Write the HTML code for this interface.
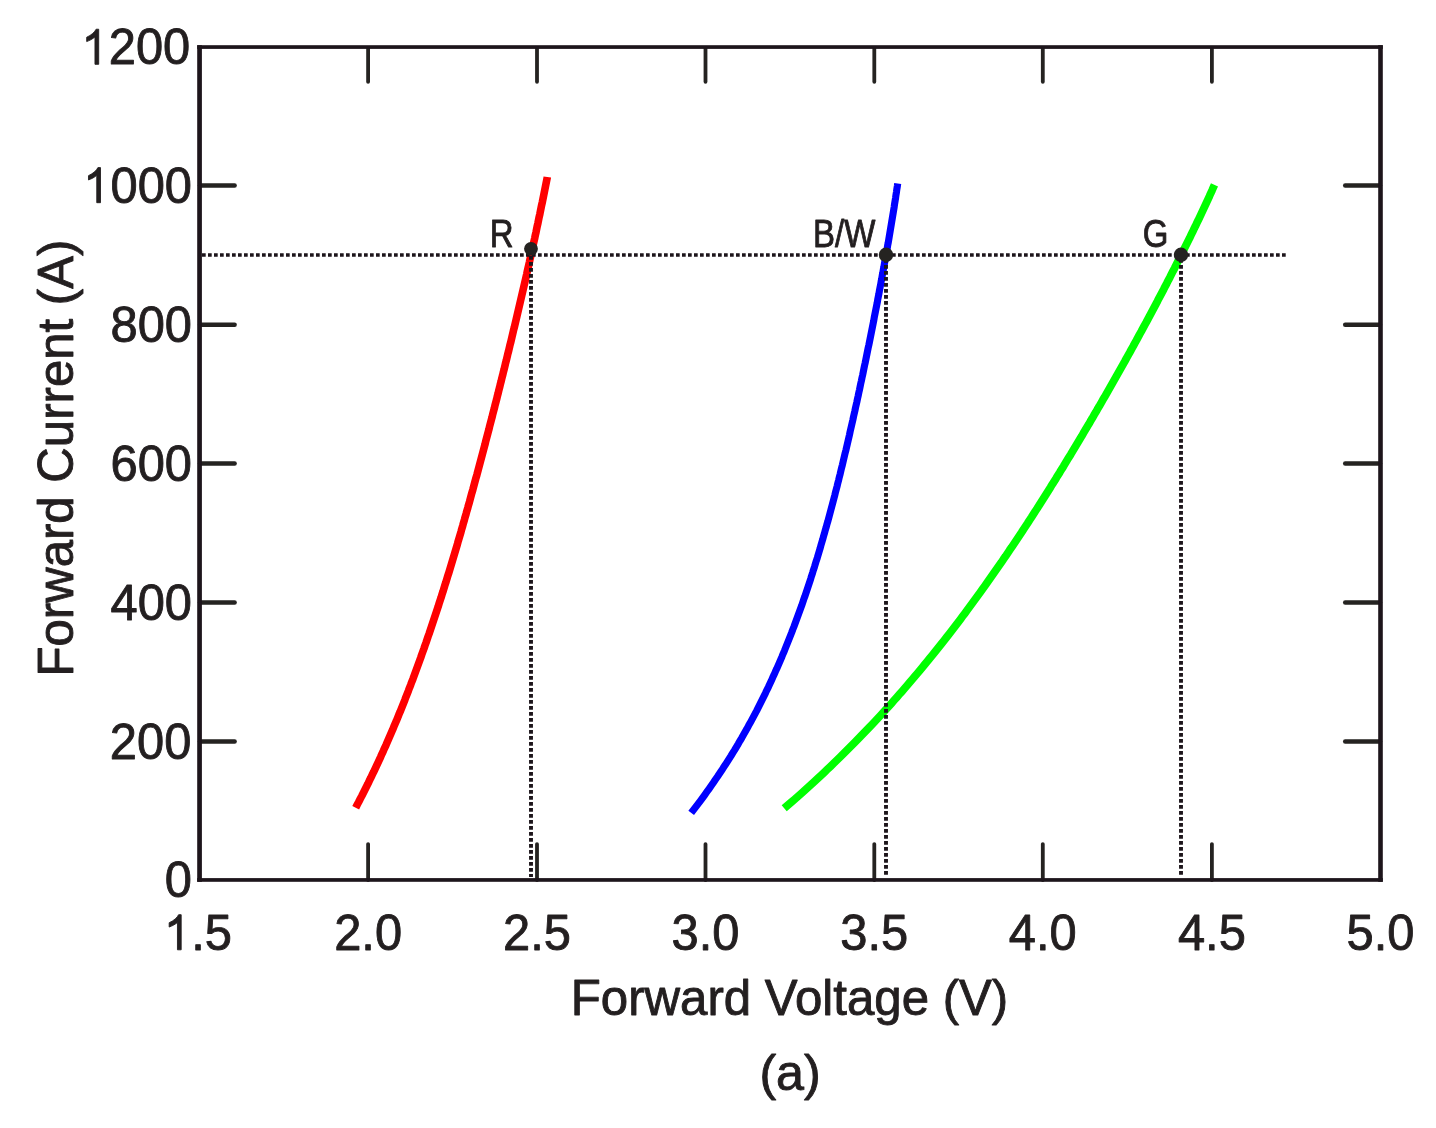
<!DOCTYPE html>
<html><head><meta charset="utf-8"><style>
html,body{margin:0;padding:0;background:#fff;}
svg{display:block;will-change:transform;}
text{font-family:"Liberation Sans",sans-serif;fill:#231f20;stroke:#231f20;stroke-width:0.9px;stroke-linejoin:round;}
.g1{fill:#231f20;stroke:#231f20;stroke-width:0.9px;vector-effect:non-scaling-stroke;stroke-linejoin:round;}
</style></head><body>
<svg width="1436" height="1128" viewBox="0 0 1436 1128">
<rect x="0" y="0" width="1436" height="1128" fill="#fff"/>
<!-- curves -->
<g fill="none" stroke-linejoin="round" stroke-linecap="butt">
<path d="M355.7,807.8 L357.2,804.8 L358.8,801.8 L360.3,798.8 L361.9,795.8 L363.4,792.8 L364.9,789.8 L366.4,786.8 L367.9,783.8 L369.3,780.8 L370.8,777.8 L372.2,774.8 L373.7,771.8 L375.1,768.8 L376.5,765.8 L377.9,762.8 L379.3,759.8 L380.7,756.8 L382.0,753.8 L383.4,750.8 L384.7,747.8 L386.1,744.8 L387.4,741.8 L388.7,738.8 L390.0,735.8 L391.3,732.8 L392.6,729.8 L393.8,726.8 L395.1,723.8 L396.4,720.8 L397.6,717.8 L398.8,714.8 L400.1,711.8 L401.3,708.8 L402.5,705.8 L403.7,702.8 L404.9,699.8 L406.0,696.8 L407.2,693.8 L408.4,690.8 L409.5,687.8 L410.7,684.8 L411.8,681.8 L413.0,678.8 L414.1,675.8 L415.2,672.8 L416.3,669.8 L417.4,666.8 L418.5,663.8 L419.6,660.8 L420.7,657.8 L421.7,654.8 L422.8,651.8 L423.9,648.8 L424.9,645.8 L426.0,642.8 L427.0,639.8 L428.0,636.8 L429.1,633.8 L430.1,630.8 L431.1,627.8 L432.1,624.8 L433.1,621.8 L434.1,618.8 L435.1,615.8 L436.1,612.8 L437.1,609.8 L438.1,606.8 L439.0,603.8 L440.0,600.8 L441.0,597.8 L441.9,594.8 L442.9,591.8 L443.8,588.8 L444.7,585.8 L445.7,582.8 L446.6,579.8 L447.5,576.8 L448.5,573.8 L449.4,570.8 L450.3,567.8 L451.2,564.8 L452.1,561.8 L453.0,558.8 L453.9,555.8 L454.8,552.8 L455.7,549.8 L456.6,546.8 L457.5,543.8 L458.3,540.8 L459.2,537.8 L460.1,534.8 L461.0,531.8 L461.8,528.8 L462.7,525.8 L463.5,522.8 L464.4,519.8 L465.2,516.8 L466.1,513.8 L466.9,510.8 L467.8,507.8 L468.6,504.8 L469.5,501.8 L470.3,498.8 L471.1,495.8 L471.9,492.8 L472.8,489.8 L473.6,486.8 L474.4,483.8 L475.2,480.8 L476.0,477.8 L476.9,474.8 L477.7,471.8 L478.5,468.8 L479.3,465.8 L480.1,462.8 L480.9,459.8 L481.7,456.8 L482.5,453.8 L483.3,450.8 L484.1,447.8 L484.9,444.8 L485.6,441.8 L486.4,438.8 L487.2,435.8 L488.0,432.8 L488.8,429.8 L489.5,426.8 L490.3,423.8 L491.1,420.8 L491.9,417.8 L492.6,414.8 L493.4,411.8 L494.2,408.8 L494.9,405.8 L495.7,402.8 L496.5,399.8 L497.2,396.8 L498.0,393.8 L498.7,390.8 L499.5,387.8 L500.2,384.8 L501.0,381.8 L501.7,378.8 L502.5,375.8 L503.2,372.8 L504.0,369.8 L504.7,366.8 L505.4,363.8 L506.2,360.8 L506.9,357.8 L507.6,354.8 L508.4,351.8 L509.1,348.8 L509.8,345.8 L510.6,342.8 L511.3,339.8 L512.0,336.8 L512.7,333.8 L513.4,330.8 L514.2,327.8 L514.9,324.8 L515.6,321.8 L516.3,318.8 L517.0,315.8 L517.7,312.8 L518.4,309.8 L519.1,306.8 L519.8,303.8 L520.5,300.8 L521.2,297.8 L521.9,294.8 L522.6,291.8 L523.3,288.8 L524.0,285.8 L524.7,282.8 L525.4,279.8 L526.1,276.8 L526.8,273.8 L527.4,270.8 L528.1,267.8 L528.8,264.8 L529.5,261.8 L530.1,258.8 L530.8,255.8 L531.5,252.8 L532.1,249.8 L532.8,246.8 L533.4,243.8 L534.1,240.8 L534.8,237.8 L535.4,234.8 L536.1,231.8 L536.7,228.8 L537.3,225.8 L538.0,222.8 L538.6,219.8 L539.2,216.8 L539.9,213.8 L540.5,210.8 L541.1,207.8 L541.7,204.8 L542.4,201.8 L543.0,198.8 L543.6,195.8 L544.2,192.8 L544.8,189.8 L545.4,186.8 L546.0,183.8 L546.6,180.8 L547.2,177.8 L547.3,177.0" stroke="#ff0000" stroke-width="7.6"/>
<path d="M691.2,812.8 L693.5,809.8 L695.8,806.8 L698.1,803.8 L700.4,800.8 L702.6,797.8 L704.8,794.8 L706.9,791.8 L709.1,788.8 L711.2,785.8 L713.3,782.8 L715.3,779.8 L717.4,776.8 L719.4,773.8 L721.4,770.8 L723.3,767.8 L725.3,764.8 L727.2,761.8 L729.1,758.8 L731.0,755.8 L732.8,752.8 L734.7,749.8 L736.5,746.8 L738.3,743.8 L740.0,740.8 L741.8,737.8 L743.5,734.8 L745.2,731.8 L746.9,728.8 L748.5,725.8 L750.2,722.8 L751.8,719.8 L753.4,716.8 L755.0,713.8 L756.6,710.8 L758.1,707.8 L759.6,704.8 L761.1,701.8 L762.6,698.8 L764.1,695.8 L765.6,692.8 L767.0,689.8 L768.5,686.8 L769.9,683.8 L771.3,680.8 L772.6,677.8 L774.0,674.8 L775.3,671.8 L776.7,668.8 L778.0,665.8 L779.3,662.8 L780.6,659.8 L781.9,656.8 L783.1,653.8 L784.4,650.8 L785.6,647.8 L786.8,644.8 L788.0,641.8 L789.2,638.8 L790.4,635.8 L791.6,632.8 L792.7,629.8 L793.9,626.8 L795.0,623.8 L796.1,620.8 L797.2,617.8 L798.3,614.8 L799.4,611.8 L800.5,608.8 L801.6,605.8 L802.6,602.8 L803.6,599.8 L804.7,596.8 L805.7,593.8 L806.7,590.8 L807.7,587.8 L808.7,584.8 L809.7,581.8 L810.7,578.8 L811.6,575.8 L812.6,572.8 L813.5,569.8 L814.5,566.8 L815.4,563.8 L816.3,560.8 L817.3,557.8 L818.2,554.8 L819.1,551.8 L820.0,548.8 L820.8,545.8 L821.7,542.8 L822.6,539.8 L823.4,536.8 L824.3,533.8 L825.1,530.8 L826.0,527.8 L826.8,524.8 L827.7,521.8 L828.5,518.8 L829.3,515.8 L830.1,512.8 L830.9,509.8 L831.7,506.8 L832.5,503.8 L833.3,500.8 L834.1,497.8 L834.9,494.8 L835.6,491.8 L836.4,488.8 L837.2,485.8 L837.9,482.8 L838.7,479.8 L839.4,476.8 L840.2,473.8 L840.9,470.8 L841.6,467.8 L842.4,464.8 L843.1,461.8 L843.8,458.8 L844.5,455.8 L845.2,452.8 L846.0,449.8 L846.7,446.8 L847.4,443.8 L848.1,440.8 L848.8,437.8 L849.5,434.8 L850.1,431.8 L850.8,428.8 L851.5,425.8 L852.2,422.8 L852.9,419.8 L853.5,416.8 L854.2,413.8 L854.9,410.8 L855.5,407.8 L856.2,404.8 L856.9,401.8 L857.5,398.8 L858.2,395.8 L858.8,392.8 L859.5,389.8 L860.1,386.8 L860.7,383.8 L861.4,380.8 L862.0,377.8 L862.7,374.8 L863.3,371.8 L863.9,368.8 L864.5,365.8 L865.2,362.8 L865.8,359.8 L866.4,356.8 L867.0,353.8 L867.6,350.8 L868.2,347.8 L868.9,344.8 L869.5,341.8 L870.1,338.8 L870.7,335.8 L871.3,332.8 L871.9,329.8 L872.5,326.8 L873.1,323.8 L873.7,320.8 L874.2,317.8 L874.8,314.8 L875.4,311.8 L876.0,308.8 L876.6,305.8 L877.2,302.8 L877.7,299.8 L878.3,296.8 L878.9,293.8 L879.4,290.8 L880.0,287.8 L880.6,284.8 L881.1,281.8 L881.7,278.8 L882.2,275.8 L882.8,272.8 L883.3,269.8 L883.9,266.8 L884.4,263.8 L885.0,260.8 L885.5,257.8 L886.1,254.8 L886.6,251.8 L887.1,248.8 L887.6,245.8 L888.2,242.8 L888.7,239.8 L889.2,236.8 L889.7,233.8 L890.2,230.8 L890.7,227.8 L891.2,224.8 L891.7,221.8 L892.2,218.8 L892.7,215.8 L893.2,212.8 L893.7,209.8 L894.2,206.8 L894.6,203.8 L895.1,200.8 L895.6,197.8 L896.0,194.8 L896.5,191.8 L896.9,188.8 L897.4,185.8 L897.7,183.5" stroke="#0000ff" stroke-width="7.1"/>
<path d="M784.2,808.3 L787.7,805.3 L791.2,802.3 L794.6,799.3 L798.0,796.3 L801.4,793.3 L804.7,790.3 L808.0,787.3 L811.3,784.3 L814.6,781.3 L817.8,778.3 L821.1,775.3 L824.3,772.3 L827.4,769.3 L830.6,766.3 L833.7,763.3 L836.8,760.3 L839.9,757.3 L842.9,754.3 L845.9,751.3 L848.9,748.3 L851.9,745.3 L854.9,742.3 L857.8,739.3 L860.7,736.3 L863.6,733.3 L866.5,730.3 L869.4,727.3 L872.2,724.3 L875.0,721.3 L877.8,718.3 L880.6,715.3 L883.3,712.3 L886.0,709.3 L888.8,706.3 L891.5,703.3 L894.1,700.3 L896.8,697.3 L899.4,694.3 L902.1,691.3 L904.7,688.3 L907.3,685.3 L909.8,682.3 L912.4,679.3 L914.9,676.3 L917.5,673.3 L920.0,670.3 L922.5,667.3 L924.9,664.3 L927.4,661.3 L929.8,658.3 L932.3,655.3 L934.7,652.3 L937.1,649.3 L939.5,646.3 L941.9,643.3 L944.2,640.3 L946.6,637.3 L948.9,634.3 L951.2,631.3 L953.5,628.3 L955.8,625.3 L958.1,622.3 L960.4,619.3 L962.6,616.3 L964.9,613.3 L967.1,610.3 L969.3,607.3 L971.5,604.3 L973.7,601.3 L975.9,598.3 L978.1,595.3 L980.3,592.3 L982.4,589.3 L984.6,586.3 L986.7,583.3 L988.8,580.3 L990.9,577.3 L993.0,574.3 L995.1,571.3 L997.2,568.3 L999.3,565.3 L1001.4,562.3 L1003.4,559.3 L1005.5,556.3 L1007.5,553.3 L1009.5,550.3 L1011.6,547.3 L1013.6,544.3 L1015.6,541.3 L1017.6,538.3 L1019.6,535.3 L1021.6,532.3 L1023.5,529.3 L1025.5,526.3 L1027.5,523.3 L1029.4,520.3 L1031.4,517.3 L1033.3,514.3 L1035.2,511.3 L1037.2,508.3 L1039.1,505.3 L1041.0,502.3 L1042.9,499.3 L1044.8,496.3 L1046.7,493.3 L1048.6,490.3 L1050.5,487.3 L1052.3,484.3 L1054.2,481.3 L1056.1,478.3 L1057.9,475.3 L1059.8,472.3 L1061.6,469.3 L1063.5,466.3 L1065.3,463.3 L1067.1,460.3 L1068.9,457.3 L1070.8,454.3 L1072.6,451.3 L1074.4,448.3 L1076.2,445.3 L1078.0,442.3 L1079.8,439.3 L1081.6,436.3 L1083.3,433.3 L1085.1,430.3 L1086.9,427.3 L1088.7,424.3 L1090.4,421.3 L1092.2,418.3 L1093.9,415.3 L1095.7,412.3 L1097.4,409.3 L1099.2,406.3 L1100.9,403.3 L1102.6,400.3 L1104.4,397.3 L1106.1,394.3 L1107.8,391.3 L1109.5,388.3 L1111.2,385.3 L1112.9,382.3 L1114.6,379.3 L1116.3,376.3 L1118.0,373.3 L1119.7,370.3 L1121.4,367.3 L1123.1,364.3 L1124.8,361.3 L1126.4,358.3 L1128.1,355.3 L1129.8,352.3 L1131.4,349.3 L1133.1,346.3 L1134.7,343.3 L1136.4,340.3 L1138.0,337.3 L1139.6,334.3 L1141.3,331.3 L1142.9,328.3 L1144.5,325.3 L1146.2,322.3 L1147.8,319.3 L1149.4,316.3 L1151.0,313.3 L1152.6,310.3 L1154.2,307.3 L1155.8,304.3 L1157.4,301.3 L1158.9,298.3 L1160.5,295.3 L1162.1,292.3 L1163.7,289.3 L1165.2,286.3 L1166.8,283.3 L1168.3,280.3 L1169.9,277.3 L1171.4,274.3 L1172.9,271.3 L1174.5,268.3 L1176.0,265.3 L1177.5,262.3 L1179.0,259.3 L1180.5,256.3 L1182.0,253.3 L1183.5,250.3 L1185.0,247.3 L1186.5,244.3 L1188.0,241.3 L1189.5,238.3 L1190.9,235.3 L1192.4,232.3 L1193.8,229.3 L1195.3,226.3 L1196.7,223.3 L1198.2,220.3 L1199.6,217.3 L1201.0,214.3 L1202.4,211.3 L1203.8,208.3 L1205.2,205.3 L1206.6,202.3 L1208.0,199.3 L1209.4,196.3 L1210.7,193.3 L1212.1,190.3 L1213.4,187.3 L1214.5,184.9" stroke="#00ff00" stroke-width="7.8"/>
</g>
<!-- dotted guide lines -->
<g stroke="#1d151b" stroke-width="3.7" stroke-dasharray="3.7 2.3" fill="none">
<line x1="202" y1="255" x2="1287" y2="255"/>
</g>
<g stroke="#1d151b" stroke-width="3.9" stroke-dasharray="3.7 2.3" fill="none">
<line x1="531" y1="256" x2="531" y2="877"/>
<line x1="886" y1="259" x2="886" y2="877"/>
<line x1="1181" y1="259" x2="1181" y2="877"/>
</g>
<!-- dots -->
<g fill="#252321">
<circle cx="531" cy="248.8" r="6.9"/>
<circle cx="886" cy="254.8" r="7.2"/>
<circle cx="1181" cy="254.8" r="7.2"/>
</g>
<!-- ticks -->
<g stroke="#252321" stroke-width="3.8" stroke-linecap="round">
<line x1="368.1" y1="48" x2="368.1" y2="81.8"/>
<line x1="368.1" y1="880" x2="368.1" y2="844.1"/>
<line x1="537.0" y1="48" x2="537.0" y2="81.8"/>
<line x1="537.0" y1="880" x2="537.0" y2="844.1"/>
<line x1="705.5" y1="48" x2="705.5" y2="81.8"/>
<line x1="705.5" y1="880" x2="705.5" y2="844.1"/>
<line x1="874.3" y1="48" x2="874.3" y2="81.8"/>
<line x1="874.3" y1="880" x2="874.3" y2="844.1"/>
<line x1="1042.8" y1="48" x2="1042.8" y2="81.8"/>
<line x1="1042.8" y1="880" x2="1042.8" y2="844.1"/>
<line x1="1211.9" y1="48" x2="1211.9" y2="81.8"/>
<line x1="1211.9" y1="880" x2="1211.9" y2="844.1"/>
</g>
<g stroke="#252321" stroke-width="4.5" stroke-linecap="round">
<line x1="200" y1="741.4" x2="234.6" y2="741.4"/>
<line x1="1380" y1="741.4" x2="1345.2" y2="741.4"/>
<line x1="200" y1="602.5" x2="234.6" y2="602.5"/>
<line x1="1380" y1="602.5" x2="1345.2" y2="602.5"/>
<line x1="200" y1="463.6" x2="234.6" y2="463.6"/>
<line x1="1380" y1="463.6" x2="1345.2" y2="463.6"/>
<line x1="200" y1="324.7" x2="234.6" y2="324.7"/>
<line x1="1380" y1="324.7" x2="1345.2" y2="324.7"/>
<line x1="200" y1="185.4" x2="234.6" y2="185.4"/>
<line x1="1380" y1="185.4" x2="1345.2" y2="185.4"/>
</g>
<!-- axes box -->
<g fill="#1d151b">
<rect x="197.2" y="45.2" width="4.7" height="836.6"/>
<rect x="197.2" y="45.2" width="1185.6" height="3.7"/>
<rect x="1378.2" y="45.2" width="4.6" height="836.6"/>
<rect x="197.2" y="878.1" width="1185.6" height="3.7"/>
</g>
<!-- tick labels -->
<g font-size="50.6">
<text transform="translate(192.00,897.30) scale(0.965,1)" text-anchor="end">0</text>
<text transform="translate(191.30,758.70) scale(0.965,1)" text-anchor="end">200</text>
<text transform="translate(192.00,619.80) scale(0.965,1)" text-anchor="end">400</text>
<text transform="translate(192.00,480.90) scale(0.965,1)" text-anchor="end">600</text>
<text transform="translate(192.00,342.00) scale(0.965,1)" text-anchor="end">800</text>
<text transform="translate(192.00,202.70) scale(0.965,1)" text-anchor="end"> 000</text>
<path class="g1" transform="translate(83.37,202.70) scale(0.023842,-0.024707)" d="M718 0L562 0L562 1110Q500 1055 400 1000Q300 950 215 921L215 1095Q360 1160 470 1250Q570 1340 610 1420L718 1420Z"/>
<text transform="translate(190.20,64.30) scale(0.965,1)" text-anchor="end"> 200</text>
<path class="g1" transform="translate(81.57,64.30) scale(0.023842,-0.024707)" d="M718 0L562 0L562 1110Q500 1055 400 1000Q300 950 215 921L215 1095Q360 1160 470 1250Q570 1340 610 1420L718 1420Z"/>
<text transform="translate(198.00,949.80) scale(0.965,1)" text-anchor="middle"> .5</text>
<path class="g1" transform="translate(164.06,949.80) scale(0.023842,-0.024707)" d="M718 0L562 0L562 1110Q500 1055 400 1000Q300 950 215 921L215 1095Q360 1160 470 1250Q570 1340 610 1420L718 1420Z"/>
<text transform="translate(368.10,949.80) scale(0.965,1)" text-anchor="middle">2.0</text>
<text transform="translate(537.00,949.80) scale(0.965,1)" text-anchor="middle">2.5</text>
<text transform="translate(705.50,949.80) scale(0.965,1)" text-anchor="middle">3.0</text>
<text transform="translate(874.30,949.80) scale(0.965,1)" text-anchor="middle">3.5</text>
<text transform="translate(1042.80,949.80) scale(0.965,1)" text-anchor="middle">4.0</text>
<text transform="translate(1211.90,949.80) scale(0.965,1)" text-anchor="middle">4.5</text>
<text transform="translate(1380.50,949.80) scale(0.965,1)" text-anchor="middle">5.0</text>
</g>
<!-- axis titles -->
<text transform="translate(789.5,1015) scale(0.998,1)" font-size="49.3" text-anchor="middle">Forward Voltage (V)</text>
<text transform="translate(790.1,1089.6) scale(1.02,1)" font-size="49.3" text-anchor="middle">(a)</text>
<text transform="translate(73.1,458.1) rotate(-90) scale(0.997,1)" font-size="49.3" text-anchor="middle">Forward Current (A)</text>
<!-- point labels -->
<g font-size="38.8">
<text transform="translate(489.8,246.9) scale(0.85,1)">R</text>
<text transform="translate(813,246.8) scale(0.85,1)">B/W</text>
<text transform="translate(1142.7,246.7) scale(0.85,1)">G</text>
</g>
</svg>
</body></html>
